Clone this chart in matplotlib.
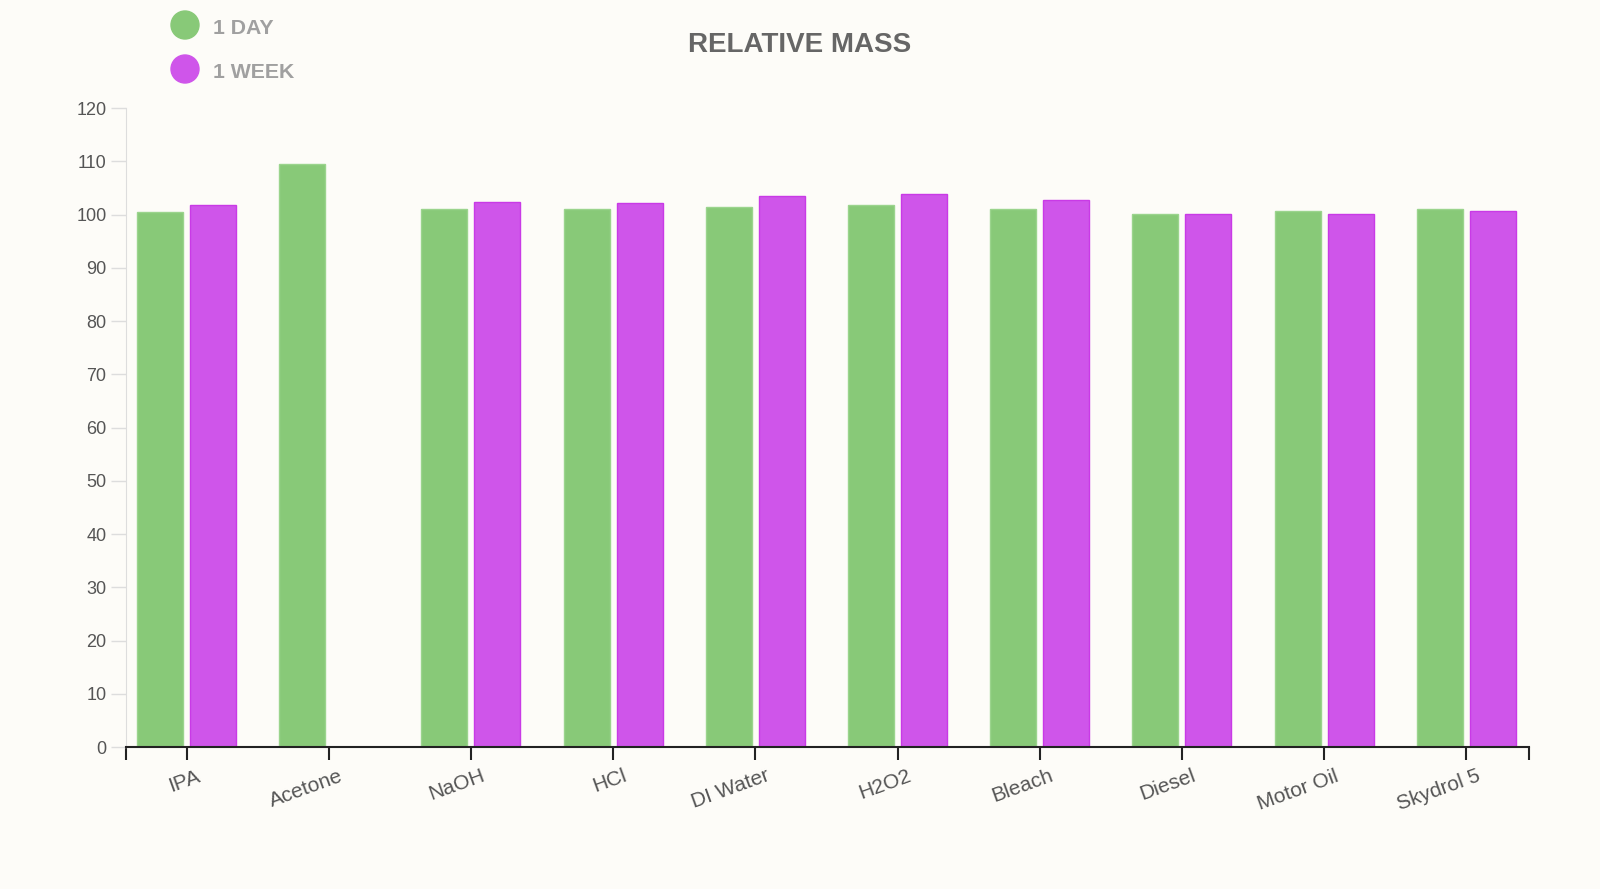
import matplotlib
matplotlib.use("Agg")
import matplotlib.pyplot as plt
import matplotlib.transforms as mtransforms
import numpy as np

CATEGORIES = ["IPA", "Acetone", "NaOH", "HCl", "DI Water", "H2O2",
              "Bleach", "Diesel", "Motor Oil", "Skydrol 5"]
ONE_DAY = [100.5, 109.5, 101.1, 101.1, 101.5, 101.8, 101.1, 100.1, 100.75, 101.1]
ONE_WEEK = [101.7, None, 102.4, 102.1, 103.5, 103.8, 102.8, 100.1, 100.1, 100.75]
Y_TICKS = list(range(0, 121, 10))

GREEN = "#88c978"
PURPLE = "#cf55ea"
BG = "#fdfcf8"

plt.rcParams["font.family"] = ["Liberation Sans", "DejaVu Sans"]

fig = plt.figure(figsize=(16, 8.89), dpi=100, facecolor=BG)
ax = fig.add_axes([0.07875, 0.1597, 0.8769, 0.7188])
ax.set_facecolor(BG)

x = np.arange(len(CATEGORIES))
width = 0.3235
offset = 0.186

ax.bar(x - offset, ONE_DAY, width, color=GREEN, edgecolor="#9bd48d", linewidth=1)
wk_x = [xi + offset for xi, v in zip(x, ONE_WEEK) if v is not None]
wk_v = [v for v in ONE_WEEK if v is not None]
ax.bar(wk_x, wk_v, width, color=PURPLE, edgecolor="#c93ae6", linewidth=1)

xmin, xmax = -0.4255, 9.441
ax.set_xlim(xmin, xmax)
ax.set_ylim(0, 120)

ax.set_yticks(Y_TICKS)
ax.tick_params(axis="y", length=11, width=1, color="#dddddd", labelcolor="#555555",
               labelsize=13, pad=3)

ax.set_xticks(x)
ax.set_xticklabels(CATEGORIES, rotation=20, ha="right", rotation_mode="anchor",
                   fontsize=15, color="#555555")
ax.set_xticks([xmin, xmax], minor=True)
ax.tick_params(axis="x", which="both", length=9, width=1.5, color="#222222", pad=5)
shift = mtransforms.ScaledTranslation(10 / 100, 0, fig.dpi_scale_trans)
for lbl in ax.get_xticklabels():
    lbl.set_transform(lbl.get_transform() + shift)

for s in ["top", "right"]:
    ax.spines[s].set_visible(False)
ax.spines["left"].set_color("#dddddd")
ax.spines["bottom"].set_color("#222222")
ax.spines["bottom"].set_linewidth(1.5)

fig.text(0.5, 1 - 45 / 889, "RELATIVE MASS", ha="center", va="center",
         fontsize=20, fontweight="bold", color="#666666")

# legend drawn as circles with labels
for i, (name, col) in enumerate([("1 DAY", GREEN), ("1 WEEK", PURPLE)]):
    yy = 1 - (25 + 44 * i) / 889
    fig.patches.append(matplotlib.patches.Ellipse((185 / 1600, yy), 28 / 1600, 28 / 889,
                                                  transform=fig.transFigure, color=col))
    fig.text(213 / 1600, yy - 4 / 889, name, ha="left", va="center", fontsize=15.3,
             fontweight="bold", color="#a0a0a0")

fig.savefig("out.png", dpi=100, facecolor=BG)
